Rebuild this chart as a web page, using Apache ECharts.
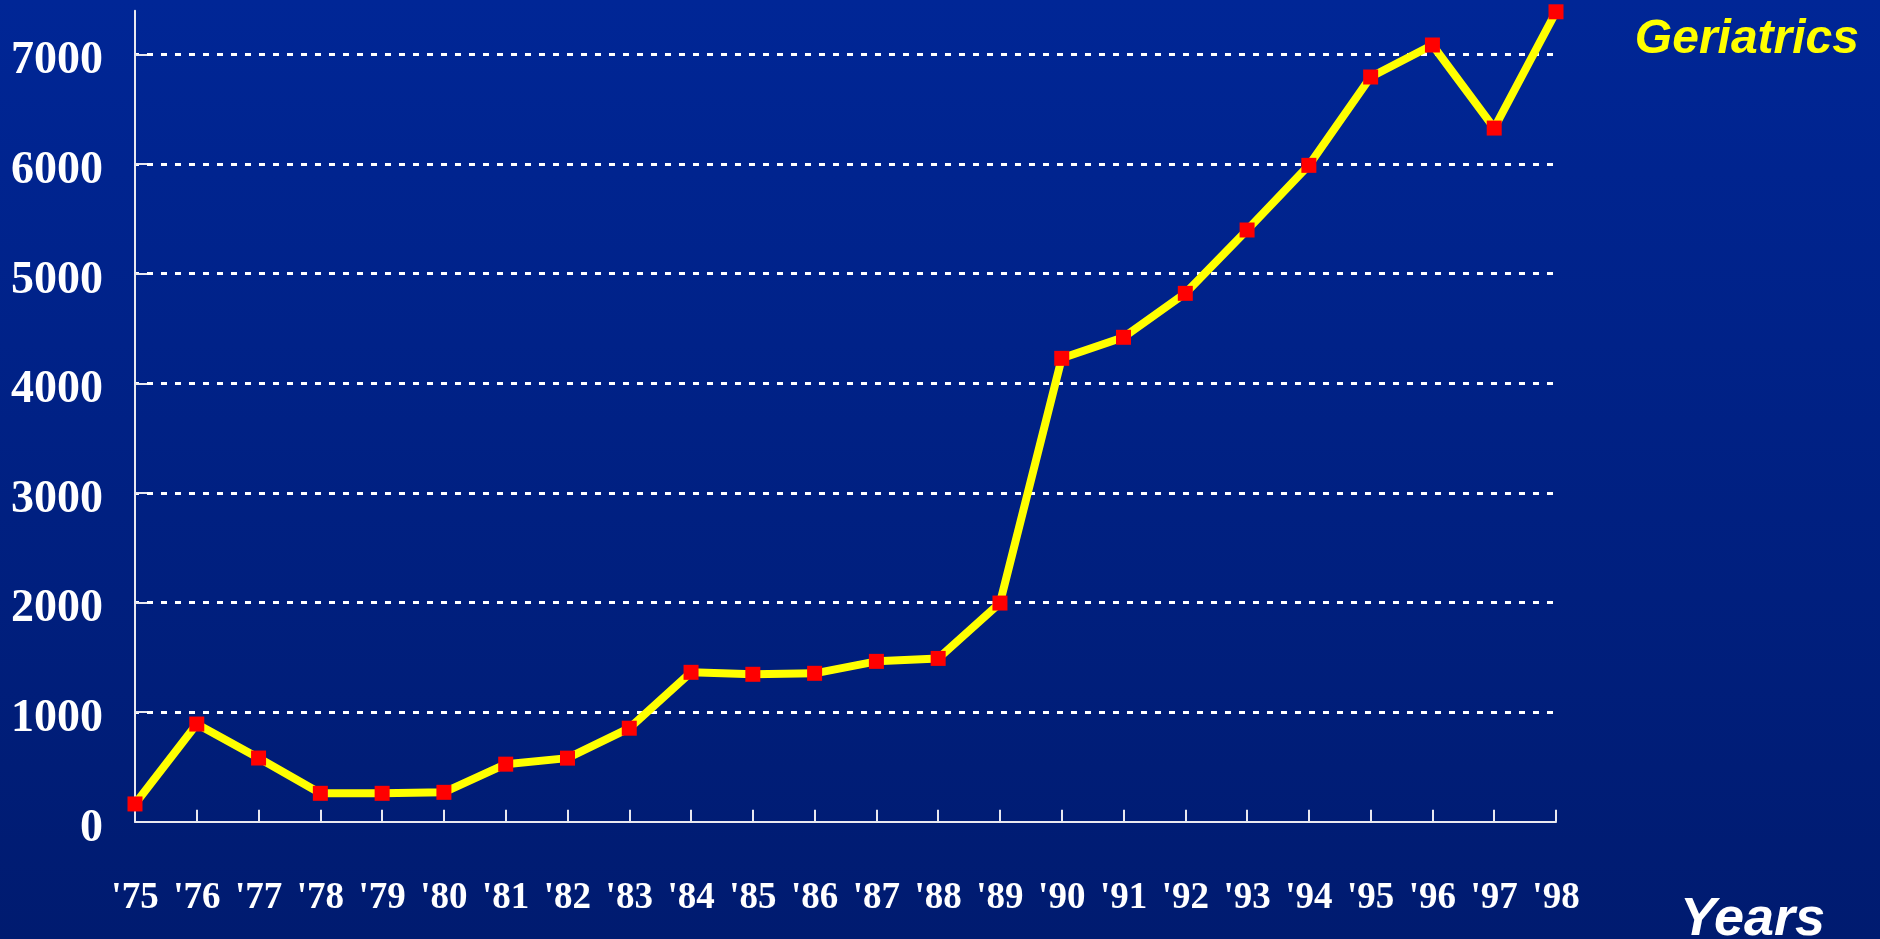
<!DOCTYPE html>
<html>
<head>
<meta charset="utf-8">
<script src="https://cdn.jsdelivr.net/npm/echarts@6/dist/echarts.min.js"></script>
<style>
html, body { margin: 0; padding: 0; }
#main { width: 1880px; height: 939px; }
</style>
</head>
<body>
<div id="main"></div>
<script>
// years on the x axis
var years = ["'75", "'76", "'77", "'78", "'79", "'80", "'81", "'82", "'83", "'84", "'85", "'86",
    "'87", "'88", "'89", "'90", "'91", "'92", "'93", "'94", "'95", "'96", "'97", "'98"];
// geriatrics values
var geriatrics = [162, 891, 581, 259, 259, 268, 525, 580, 853, 1363, 1345, 1354,
    1463, 1490, 1995, 4228, 4420, 4821, 5399, 5989, 6795, 7087, 6329, 7390];
// y tick labels
var yTicks = [0, 1000, 2000, 3000, 4000, 5000, 6000, 7000];

var serif = '"Times New Roman", "Liberation Serif", serif';
var sans = 'Arial, "Liberation Sans", sans-serif';

var dom = document.getElementById('main');
var myChart = echarts.init(dom);

var option = {
    backgroundColor: new echarts.graphic.LinearGradient(0, 0, 0, 1, [
        {offset: 0, color: '#002696'},
        {offset: 1, color: '#001b70'}
    ]),
    animation: false,
    title: [{
        text: 'Geriatrics',
        right: 16,
        top: 11,
        textStyle: {color: '#ffff00', fontSize: 48, fontWeight: 'bold', fontStyle: 'italic', fontFamily: sans}
    }, {
        text: 'Years',
        left: 1675,
        top: 888,
        textStyle: {color: '#ffffff', fontSize: 54, fontWeight: 'bold', fontStyle: 'italic', fontFamily: sans}
    }],
    grid: {
        left: 135,
        right: 324,
        top: 10.7,
        bottom: 117.3
    },
    xAxis: {
        type: 'category',
        boundaryGap: false,
        data: years,
        axisLine: {lineStyle: {color: '#e8e8f0', width: 2}},
        axisTick: {inside: true, length: 12, lineStyle: {color: '#e8e8f0', width: 2}},
        axisLabel: {
            color: '#ffffff',
            fontFamily: serif,
            fontWeight: 'bold',
            fontSize: 37,
            margin: 58
        },
        splitLine: {show: false}
    },
    yAxis: {
        type: 'value',
        min: 0,
        max: 7400,
        interval: 1000,
        axisLine: {show: true, lineStyle: {color: '#e8e8f0', width: 2}},
        axisTick: {show: true, inside: true, length: 12, customValues: yTicks,
            lineStyle: {color: '#e8e8f0', width: 2}},
        axisLabel: {
            customValues: yTicks,
            formatter: function (v) { return String(v); },
            color: '#ffffff',
            fontFamily: serif,
            fontWeight: 'bold',
            fontSize: 46,
            margin: 32,
            verticalAlign: 'top',
            lineHeight: 14
        },
        splitLine: {
            show: true,
            showMinLine: false,
            showMaxLine: true,
            lineStyle: {color: '#ffffff', width: 3, type: [6, 8], dashOffset: 2}
        }
    },
    series: [{
        name: 'Geriatrics',
        type: 'line',
        data: geriatrics,
        clip: false,
        symbol: 'rect',
        symbolSize: 15,
        showAllSymbol: true,
        itemStyle: {color: '#ff0000'},
        lineStyle: {color: '#ffff00', width: 8}
    }]
};

myChart.setOption(option);
</script>
</body>
</html>
